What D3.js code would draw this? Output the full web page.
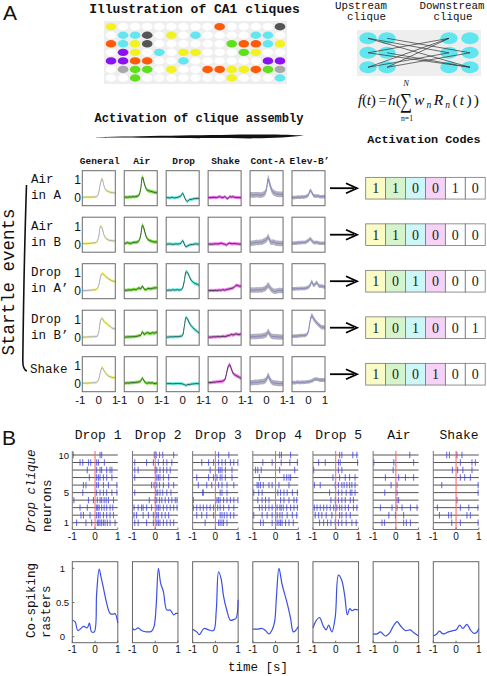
<!DOCTYPE html>
<html><head><meta charset="utf-8">
<script src="https://cdn.jsdelivr.net/npm/d3@7"></script>
<style>body{margin:0;background:#fff}svg{display:block}</style>
</head><body>
<svg id="c" width="487" height="676"></svg>
<script>
// ---------------- DATA ----------------
const cliqueGrid = [
  "Y........O....K",
  ".CCK.Y.C....CC.",
  "OCYK......GOOCY",
  ".PY.C.YY...GY..",
  "PPOO..C......PP",
  ".LGG.Y..OOYYOGL",
  "..G.......Y...C"
];
const cliqueColors = {Y:"#f2f21e",C:"#62e6ef",K:"#555555",O:"#ff5a0a",G:"#5fe01c",P:"#8a12f2",L:"#a8a8a8"};
// network edges: [upstream col, upstream row, downstream col, downstream row]
const networkEdges = [[0,0,1,2],[0,0,0,1],[1,0,1,1],[0,1,0,0],[1,1,1,2],[0,1,1,2],[0,2,0,0],[1,2,0,0],[1,2,1,1],[0,2,0,1]];

const colNames = ["General","Air","Drop","Shake","Cont-A","Elev-B’"];
const rowNames = [["Air","in A"],["Air","in B"],["Drop","in A’"],["Drop","in B’"],["Shake"]];
const tGrid = [-1,-0.9,-0.8,-0.7,-0.6,-0.5,-0.4,-0.3,-0.2,-0.1,0,0.1,0.2,0.3,0.4,0.5,0.6,0.7,0.8,0.9,1];
const curveGeneral = [
  [0.02,0.02,0.03,0.03,0.02,0.03,0.04,0.03,0.04,0.08,0.3,0.8,1.05,0.7,0.45,0.38,0.33,0.3,0.28,0.27,0.25],
  [0.02,0.03,0.02,0.03,0.04,0.05,0.06,0.06,0.08,0.15,0.45,1.0,0.9,0.55,0.35,0.28,0.22,0.2,0.2,0.18,0.17],
  [0,0,0,0.01,0.02,0.02,0.03,0.04,0.05,0.1,0.3,0.75,0.95,0.9,0.8,0.72,0.65,0.6,0.55,0.52,0.5],
  [0,0,0,0.01,0.02,0.01,0.02,0.03,0.03,0.05,0.3,0.9,1.05,0.9,0.8,0.75,0.65,0.6,0.5,0.48,0.45],
  [0.02,0.02,0.03,0.02,0.04,0.03,0.05,0.05,0.06,0.1,0.25,0.65,0.9,0.75,0.6,0.5,0.42,0.38,0.35,0.33,0.32]
];
const curveAir = [
  [0.02,0.03,0.02,0.04,0.03,0.05,0.04,0.06,0.08,0.15,0.5,1.15,0.85,0.55,0.42,0.38,0.35,0.33,0.3,0.28,0.28],
  [0.02,0.05,0.08,0.05,0.04,0.08,0.1,0.1,0.12,0.2,0.5,1.05,0.85,0.5,0.3,0.22,0.18,0.15,0.12,0.12,0.12],
  [0.02,0.02,0.03,0.04,0.03,0.05,0.08,0.05,0.1,0.15,0.1,0.25,0.1,0.05,0.1,0.12,0.1,0.12,0.15,0.15,0.18],
  [0,0,0.01,0.02,0.01,0.03,0.02,0.04,0.05,0.08,0.1,0.3,0.15,0.2,0.25,0.22,0.2,0.25,0.22,0.25,0.28],
  [0.02,0.03,0.04,0.03,0.05,0.05,0.06,0.07,0.08,0.1,0.15,0.3,0.15,0.05,0.02,0.05,0.03,0.05,0,0.02,0.02]
];
const curveDrop = [
  [0,0,-0.02,0,0.01,-0.02,0,0.02,0.05,0.1,0.25,0.05,-0.15,-0.2,-0.12,-0.1,-0.08,-0.06,-0.05,-0.04,-0.05],
  [0,0,0.01,0,-0.01,0,0.01,0,0.02,0.05,0.2,0,-0.15,-0.1,-0.05,-0.03,-0.02,0,0.01,0,0],
  [0.02,0.02,0.03,0.02,0.05,0.03,0.04,0.05,0.03,0.05,0.15,0.55,1.05,1.0,0.8,0.6,0.5,0.42,0.38,0.35,0.3],
  [0,0,0.01,0.02,0.01,0.02,0.03,0.02,0.04,0.05,0.1,0.6,1.1,1.0,0.8,0.65,0.55,0.45,0.38,0.3,0.22],
  [0,0,0,0,-0.01,0,0,0.01,0,0,-0.02,-0.05,-0.1,-0.05,-0.05,-0.03,-0.02,-0.01,0,0,0]
];
const curveShake = [
  [0,0,0,0.01,0.02,0,0.03,0.05,0.02,0,0.05,-0.02,-0.05,0.05,0.03,0.05,0.02,0.01,0,0,0],
  [0,0,0,0,0.01,0.02,0.01,0.03,0.05,0.02,0,-0.05,0.02,0.05,0.03,0.02,0.03,0.02,0.01,0,0],
  [0,0,0.01,0,0.02,0.01,0.02,0.03,0.02,0.05,0.03,0.05,0.08,0.1,0.12,0.15,0.2,0.3,0.28,0.25,0.25],
  [0,0,0,0.02,0.01,0.02,0.03,0.02,0.03,0.05,0.03,0.05,0.08,0.1,0.15,0.12,0.15,0.18,0.15,0.15,0.18],
  [0.05,0.06,0.06,0.08,0.08,0.1,0.1,0.12,0.12,0.15,0.2,0.5,0.9,1.05,0.85,0.6,0.5,0.45,0.4,0.35,0.3]
];
const curveContA = [
  [0.15,0.15,0.14,0.15,0.16,0.15,0.14,0.15,0.18,0.25,0.5,1.05,0.75,0.45,0.3,0.25,0.2,0.2,0.18,0.18,0.17],
  [0.05,0.05,0.06,0.08,0.1,0.08,0.12,0.1,0.15,0.2,0.25,0.4,0.2,0.1,0.12,0.08,0.05,0.05,0.03,0.03,0.02],
  [0.02,0.03,0.02,0.03,0.05,0.03,0.05,0.04,0.08,0.1,0.2,0.3,0.18,0.05,0,-0.05,-0.02,0,0.02,0,0],
  [0.02,0.02,0.03,0.03,0.04,0.05,0.05,0.06,0.08,0.1,0.15,0.3,0.15,0.05,0.03,0.02,0.02,0.01,0.01,0,0],
  [0.05,0.05,0.06,0.08,0.07,0.08,0.1,0.1,0.12,0.15,0.25,0.45,0.25,0.1,0.05,0.03,0.02,0.01,0,0,0]
];
const curveElevB = [
  [0.02,0,0.01,0.02,0.03,0.02,0.04,0.03,0.05,0.08,0.15,0.4,0.3,0.12,0.08,0.1,0.08,0.05,0.05,0.06,0.05],
  [0.05,0.05,0.06,0.06,0.08,0.07,0.1,0.09,0.1,0.15,0.2,0.3,0.2,0.1,0.08,0.1,0.07,0.05,0.05,0.05,0.05],
  [0.1,0.1,0.1,0.11,0.1,0.12,0.11,0.12,0.13,0.15,0.2,0.3,0.5,0.3,0.35,0.45,0.3,0.25,0.25,0.22,0.2],
  [0.05,0.05,0.06,0.06,0.07,0.08,0.08,0.09,0.1,0.15,0.35,0.9,1.2,1.05,0.9,0.8,0.7,0.62,0.55,0.55,0.52],
  [0.05,0.06,0.05,0.08,0.07,0.06,0.08,0.07,0.08,0.1,0.1,0.12,0.15,0.2,0.25,0.25,0.22,0.2,0.2,0.2,0.18]
];
const bandHalfWidth = [0.07,0.09,0.09,0.09,0.15,0.1];
const activationCodes = [[1,1,0,0,1,0],[1,1,0,0,0,0],[1,0,1,0,0,0],[1,0,1,0,0,1],[1,0,0,1,0,0]];
const smallXTicks = [-1,0,1];
const smallYTicks = [0,1];

const rasterTitles = ["Drop 1","Drop 2","Drop 3","Drop 4","Drop 5","Air","Shake"];
// spike times (s), rows listed from neuron 10 (top) down to neuron 1 (bottom)
const spikesDrop1 = [
  [-0.96,0.22,0.29],
  [-0.66,-0.54,-0.29,-0.19,0.07,0.15,0.41],
  [-0.34,0.07,0.22,0.29,0.51,0.66,0.74],
  [-0.25,0.07,0.15,0.22,0.37,0.51,0.74],
  [-0.51,-0.4,0.07,0.15,0.37,0.59,0.96],
  [-0.54,0.07,0.22,0.37,0.51,0.74,0.96],
  [-0.93,-0.29,-0.07,0.1,0.22,0.29,0.4,0.49,0.59,0.81],
  [-0.66,-0.34,0.07,0.12,0.18,0.29,0.4,0.51,0.66,0.78],
  [-0.62,-0.51,-0.22,0.07,0.15,0.22,0.37,0.51,0.66,0.81],
  [-0.81,-0.4,-0.15,0.1,0.16,0.22,0.29,0.37,0.44,0.54,0.66,0.88]
];
const spikesDrop2 = [
  [-0.04,0.04,0.19,0.33,0.81],
  [-0.9,-0.38,-0.08,0.14,0.36,0.51,0.73],
  [-0.9,-0.75,0,0.07,0.21,0.36,0.51,0.66],
  [-0.9,0.07,0.14,0.21,0.36,0.59],
  [-0.16,-0.05,0.07,0.19,0.36,0.59,0.81],
  [-0.9,0.04,0.11,0.21,0.33,0.51,0.69],
  [-0.26,0,0.07,0.19,0.29,0.44,0.59,0.73,0.88,0.96],
  [-0.93,-0.75,-0.6,-0.53,-0.38,-0.16,0.07,0.14,0.21,0.36,0.51,0.66,0.81,0.96],
  [-0.93,-0.82,-0.53,-0.3,-0.08,0.07,0.14,0.29,0.44,0.59],
  [-0.9,-0.75,-0.38,-0.08,0.07,0.14,0.21,0.36,0.51,0.66,0.81]
];
const spikesDrop3 = [
  [0.14,0.59],
  [-0.6,-0.3,-0.08,0.14,0.29,0.44,0.66,0.81,0.99],
  [-0.23,0.14,0.21,0.29,0.44,0.73],
  [-0.82,-0.3,-0.08,0.07,0.21,0.29,0.44,0.73],
  [-0.75,-0.38,-0.16,0.14,0.29,0.51,0.81],
  [-0.56,-0.53,0.21,0.29,0.51],
  [-0.97,0.07,0.14,0.21,0.36,0.51,0.66,0.81,0.99],
  [-0.97,-0.82,-0.67,-0.53,-0.38,-0.23,-0.08,0.1,0.21,0.36,0.59,0.81],
  [-0.82,-0.6,-0.38,-0.08,0.21,0.29,0.39,0.51,0.66,0.81],
  [-0.45,0.14,0.21,0.29,0.36,0.51]
];
const spikesDrop4 = [
  [0.18,0.26,0.66],
  [-0.56,-0.15,0.25,0.63,0.96],
  [-0.88,-0.78,-0.63,0.18,0.84],
  [-0.71,0.37,0.49,0.59,0.66],
  [-0.81,-0.74,-0.66,-0.54,-0.29,-0.15,0.15,0.59],
  [-0.96,-0.74,-0.59,0.1,0.22,0.37,0.51,0.74,0.96],
  [-0.78,-0.59,-0.44,-0.29,0.22,0.37,0.59,0.81,0.93],
  [-0.71,-0.59,-0.44,-0.29,-0.15,0.07,0.19,0.25,0.34,0.49,0.66,0.81,0.96],
  [-0.96,-0.59,-0.37,-0.15,0.07,0.19,0.29,0.51,0.74,0.93],
  [-0.66,-0.54,-0.15,0.07,0.15,0.22,0.29,0.44,0.59,0.78]
];
const spikesDrop5 = [
  [0.17,0.27,0.75,0.93],
  [-0.75,-0.46,0.12,0.2,0.96],
  [-0.97,0.12,0.27],
  [-0.12,0.17,0.42,0.61,0.85],
  [-0.94,-0.68,-0.02,0.12,0.27,0.37,0.49,0.61,0.71,0.85],
  [-0.27,0.12,0.27,0.46,0.64,0.71,0.85],
  [-0.21,-0.02,0.12,0.27,0.42,0.64,0.78],
  [-0.94,-0.82,-0.68,-0.53,-0.39,-0.24,-0.09,0.05,0.17,0.27,0.42,0.56,0.78,0.93],
  [-0.9,-0.75,-0.61,-0.42,-0.17,0.17,0.27,0.46,0.64],
  [-0.71,-0.53,-0.36,-0.21,-0.02,0.12,0.27,0.46,0.71,0.9]
];
const spikesAir = [
  [0.61],
  [-0.97,-0.09,0.78],
  [-0.12],
  [-0.46,0.12,0.42,0.78],
  [-0.21,0.05],
  [-0.49,0.05],
  [0.05,0.12],
  [-0.68,-0.17,0.05,0.27,0.64,0.93],
  [-0.31,-0.02,0.34],
  [-0.61,-0.5,0.34,0.46,0.64]
];
const spikesShake = [
  [-0.41,-0.29,0.04,0.26],
  [0.19,0.7,0.85],
  [-0.16,0.07,0.3,0.7],
  [0.19,0.38,0.63],
  [-0.63,0.97],
  [0.97],
  [0.04],
  [-0.82,0.19,0.56,0.96],
  [-0.73,-0.33,-0.21,0.48,0.63],
  [-0.19,0.19,0.97]
];
const rasterYTicks = [1,5,10];

// co-spiking rasters: [time (s), normalised value]
const cospikeDrop1 = [[-1,0.24],[-0.88,0.22],[-0.75,0.09],[-0.51,0.15],[-0.34,0.13],[-0.25,0.2],[-0.15,0.07],[-0.03,0.07],[0.07,0.63],[0.18,0.99],[0.26,0.88],[0.37,0.71],[0.51,0.49],[0.66,0.34],[0.81,0.33],[0.88,0.34],[1,0.2]];
const cospikeDrop2 = [[-1,0.12],[-0.9,0.1],[-0.75,0.13],[-0.6,0.09],[-0.38,0.07],[-0.16,0.08],[-0.05,0.15],[0.04,0.44],[0.14,1.0],[0.24,0.78],[0.36,0.66],[0.51,0.39],[0.66,0.39],[0.81,0.32],[0.91,0.34],[1,0.34]];
const cospikeDrop3 = [[-1,0.11],[-0.82,0.07],[-0.7,0.03],[-0.5,0.12],[-0.3,0.1],[-0.08,0.09],[0.04,0.39],[0.14,0.95],[0.25,0.85],[0.36,0.59],[0.5,0.39],[0.66,0.24],[0.8,0.25],[0.91,0.27],[1,0.54]];
const cospikeDrop4 = [[-1,0.11],[-0.81,0.11],[-0.59,0.12],[-0.44,0.09],[-0.29,0.04],[-0.15,0.1],[-0.04,0.22],[0.04,0.59],[0.15,1.0],[0.29,0.76],[0.51,0.49],[0.66,0.27],[0.78,0.07],[0.88,0.09],[1,0.15]];
const cospikeDrop5 = [[-1,0.13],[-0.85,0.24],[-0.71,0.28],[-0.54,0.15],[-0.42,0.1],[-0.31,0.17],[-0.17,0.07],[-0.02,0.29],[0.12,0.9],[0.26,0.83],[0.4,0.59],[0.51,0.32],[0.62,0.41],[0.72,0.38],[0.84,0.4],[1,0.39]];
const cospikeAir = [[-1,0.04],[-0.83,0.04],[-0.68,0.07],[-0.46,0.01],[-0.27,0.06],[-0.12,0.15],[0.05,0.22],[0.2,0.16],[0.41,0.09],[0.63,0.1],[0.78,0.06],[1,0.01]];
const cospikeShake = [[-1,0.01],[-0.85,0.04],[-0.73,0.08],[-0.56,0.04],[-0.33,0.07],[-0.11,0.09],[0.01,0.1],[0.16,0.17],[0.3,0.12],[0.48,0.18],[0.63,0.1],[0.78,0.05],[0.9,0.06],[1,0.12]];
const cospikeYTicks = [[0,"0"],[0.5,"0.5"],[1,"1"]];

// ---------------- DRAWING ----------------
const svg = d3.select("#c");
const mono = '"Courier New","Liberation Mono",monospace';
const sans = 'Arial,"Liberation Sans",sans-serif';
const serif = '"Times New Roman","Liberation Serif",serif';
const T = (x,y,s,o={}) => {
  const t = svg.append("text").attr("x",x).attr("y",y).text(s)
    .attr("font-family",o.f||mono).attr("font-size",o.s||12).attr("fill",o.c||"#111")
    .attr("text-anchor",o.a||"start");
  if(o.w) t.attr("font-weight",o.w);
  if(o.i) t.attr("font-style","italic");
  if(o.r) t.attr("transform",`rotate(-90,${x},${y})`);
  if(o.len) t.attr("textLength",o.len).attr("lengthAdjust",o.adj||"spacingAndGlyphs");
  return t;
};

// panel letters
T(3,20,"A",{f:sans,s:21});
T(2,445,"B",{f:sans,s:21});

// ---- clique illustration
T(194.5,12.5,"Illustration of CA1 cliques",{s:13,w:"bold",a:"middle"});
svg.append("rect").attr("x",104).attr("y",21).attr("width",183).attr("height",63).attr("fill","#eeeeee");
const gx = d3.scalePoint().domain(d3.range(15)).range([111,280]);
const gy = d3.scalePoint().domain(d3.range(7)).range([26.7,78]);
cliqueGrid.forEach((row,r)=>row.split("").forEach((ch,c)=>{
  svg.append("ellipse").attr("cx",gx(c)).attr("cy",gy(r)).attr("rx",5.3).attr("ry",3.7)
    .attr("fill",cliqueColors[ch]||"#ffffff");
}));

// ---- network
T(361,8.5,"Upstream",{s:10.8,a:"middle"});
T(366.5,19.5,"clique",{s:10.8,a:"middle"});
T(452,8.5,"Downstream",{s:10.8,a:"middle"});
T(453,19.5,"clique",{s:10.8,a:"middle"});
svg.append("rect").attr("x",357).attr("y",30).attr("width",124).attr("height",46).attr("fill","#eeeeee");
const nUpX = d3.scalePoint().domain([0,1]).range([368,387]);
const nDnX = d3.scalePoint().domain([0,1]).range([449,470]);
const nY = d3.scalePoint().domain([0,1,2]).range([38.3,67.3]);
[nUpX,nDnX].forEach(sx=>[0,1].forEach(c=>[0,1,2].forEach(r=>{
  svg.append("ellipse").attr("cx",sx(c)).attr("cy",nY(r)).attr("rx",8.7).attr("ry",6).attr("fill","#5fe6ee");
})));
networkEdges.forEach(e=>{
  svg.append("line").attr("x1",nUpX(e[0])).attr("y1",nY(e[1])).attr("x2",nDnX(e[2])).attr("y2",nY(e[3]))
    .attr("stroke","#333").attr("stroke-width",0.7);
});
// formula  f(t) = h( sum_{n=1}^{N} w_n R_n(t) )
const f1 = T(358,104.5,"",{f:serif,s:15.5,len:18,adj:"spacing"});
f1.append("tspan").attr("font-style","italic").text("f");
f1.append("tspan").text("(");
f1.append("tspan").attr("font-style","italic").text("t");
f1.append("tspan").text(")");
T(378.5,104.5,"=",{f:serif,s:15.5,len:8});
const f2 = T(388,104.5,"",{f:serif,s:15.5});
f2.append("tspan").attr("font-style","italic").text("h");
f2.append("tspan").text("(");
T(400,108,"∑",{f:serif,s:21,len:12});
T(406,85.5,"N",{f:serif,s:8.5,i:1,a:"middle"});
T(407,120.5,"n=1",{f:serif,s:8,a:"middle",len:12});
const f3 = T(414,104.5,"",{f:serif,s:15.5,len:65,adj:"spacing"});
f3.append("tspan").attr("font-style","italic").text("w");
f3.append("tspan").attr("font-style","italic").attr("font-size",9.5).attr("dy",3.5).text("n");
f3.append("tspan").attr("font-style","italic").attr("dy",-3.5).text("R");
f3.append("tspan").attr("font-style","italic").attr("font-size",9.5).attr("dy",3.5).text("n");
f3.append("tspan").attr("dy",-3.5).text("(");
f3.append("tspan").attr("font-style","italic").text("t");
f3.append("tspan").text("))");

// ---- Activation titles
T(199,121.5,"Activation of clique assembly",{s:12,w:"bold",a:"middle"});
svg.append("path").attr("d","M96,137.3 C140,136.2 200,135.2 250,134.6 C275,134.3 292,134.8 304,135.6 C292,137.3 270,138.3 250,138.4 C200,138.4 140,138.0 96,137.6 Z").attr("fill","#111");
T(424,143,"Activation Codes",{s:11.8,w:"bold",a:"middle"});

// ---- grid of small plots
const colX = d3.scalePoint().domain(colNames).range([82.3,292]);
const rowY = d3.scalePoint().domain(d3.range(5)).range([170.7,356.7]);
const bw = 33, bh = 35;
const curveSets = [curveGeneral,curveAir,curveDrop,curveShake,curveContA,curveElevB];
const bandColors = ["#f4f45a","#78de3a","#68eadd","#f06ef0","#a9a9b6","#a9a9b6"];
const lineColors = ["#a6a6d6","#2f5f30","#2a5656","#4e2c50","#8585c6","#8585c6"];
colNames.forEach((cn,c)=>T(colX(cn)+bw/2+1,164,cn,{s:9.5,w:"bold",a:"middle"}));
rowNames.forEach((rn,r)=>{
  if(rn.length===2){ T(31,rowY(r)+12.5,rn[0],{s:12.5}); T(31,rowY(r)+28.5,rn[1],{s:12.5}); }
  else T(30,rowY(r)+16.5,rn[0],{s:12.5});
});
const defs = svg.append("defs");
colNames.forEach((cn,c)=>{
  for(let r=0;r<5;r++){
    const x0 = colX(cn), y0 = rowY(r);
    const sx = d3.scaleLinear().domain([-1,1]).range([x0,x0+bw]);
    const sy = d3.scaleLinear().domain([-0.45,1.5]).range([y0+bh,y0]);
    const id = `cl${c}_${r}`;
    defs.append("clipPath").attr("id",id).append("rect").attr("x",x0).attr("y",y0).attr("width",bw).attr("height",bh);
    const g = svg.append("g").attr("clip-path",`url(#${id})`);
    const vals = curveSets[c][r];
    const pts = tGrid.map((t,i)=>({t,v:vals[i],w:bandHalfWidth[c]*(1+0.35*Math.abs(vals[i]))}));
    g.append("path").datum(pts).attr("fill",bandColors[c]).attr("opacity",0.9)
      .attr("d",d3.area().x(d=>sx(d.t)).y0(d=>sy(d.v-d.w)).y1(d=>sy(d.v+d.w)).curve(d3.curveMonotoneX));
    g.append("path").datum(pts).attr("fill","none").attr("stroke",lineColors[c]).attr("stroke-width",1)
      .attr("d",d3.line().x(d=>sx(d.t)).y(d=>sy(d.v)).curve(d3.curveMonotoneX));
    svg.append("rect").attr("x",x0).attr("y",y0).attr("width",bw).attr("height",bh)
      .attr("fill","none").attr("stroke","#6a6a6a").attr("stroke-width",1);
    if(c===0) smallYTicks.forEach(v=>T(81,sy(v)+4.5,String(v),{f:sans,s:12,a:"end"}));
    if(r===4) smallXTicks.forEach(v=>T(sx(v)+(v===-1?-2:0),404,String(v),{f:sans,s:11.5,a:"middle"}));
  }
});
// startle events label and brace
T(13.5,282,"Startle events",{s:17.5,a:"middle",r:1});
svg.append("path").attr("d","M26.5,185 C25,230 23.5,300 22.8,360 C22.7,366 23.5,370 27,371")
  .attr("fill","none").attr("stroke","#111").attr("stroke-width",1.6);

// arrows + activation codes
const cellX = d3.scalePoint().domain(d3.range(6)).range([365.7,465.3]);
const cellW = 19.9, cellH = 21.7;
const cellColors = ["#fbfbc6","#d6f4cb","#cdf6f6","#f6d2f6","#ffffff","#ffffff"];
activationCodes.forEach((code,r)=>{
  const yc = rowY(r)+17.5;
  svg.append("line").attr("x1",330).attr("x2",354).attr("y1",yc).attr("y2",yc).attr("stroke","#000").attr("stroke-width",1.8);
  svg.append("path").attr("d",`M346,${yc-5} L357,${yc} L346,${yc+5}`).attr("fill","none").attr("stroke","#000").attr("stroke-width",1.8);
  code.forEach((v,i)=>{
    svg.append("rect").attr("x",cellX(i)).attr("y",yc-cellH/2).attr("width",cellW).attr("height",cellH)
      .attr("fill",cellColors[i]).attr("stroke","#777").attr("stroke-width",0.8);
    T(cellX(i)+cellW/2,yc+4.8,String(v),{f:serif,s:14,a:"middle",c:"#222"});
  });
});

// ---------------- PANEL B ----------------
const panX = d3.scalePoint().domain(rasterTitles).range([72.3,433.3]);
const pw = 45.5;
const spikeSets = [spikesDrop1,spikesDrop2,spikesDrop3,spikesDrop4,spikesDrop5,spikesAir,spikesShake];
const cospikeSets = [cospikeDrop1,cospikeDrop2,cospikeDrop3,cospikeDrop4,cospikeDrop5,cospikeAir,cospikeShake];
const ny = d3.scaleLinear().domain([1,10]).range([522.7,455]);
const rasterBottom = 529.5;
const cyTop = 561.7, cyBot = 642.7;
const cy = d3.scaleLinear().domain([-0.088,1.097]).range([cyBot,cyTop]);
rasterTitles.forEach((name,p)=>{
  const x0 = panX(name);
  const sx = d3.scaleLinear().domain([-1,1]).range([x0,x0+pw]);
  T(sx(0)+3,438.5,name,{s:13,a:"middle"});
  spikeSets[p].forEach((times,k)=>{
    const n = 10-k, y = ny(n);
    svg.append("line").attr("x1",x0).attr("x2",x0+pw).attr("y1",y).attr("y2",y).attr("stroke","#555").attr("stroke-width",1);
    times.forEach(t=>{
      svg.append("line").attr("x1",sx(t)).attr("x2",sx(t)).attr("y1",y-3.2).attr("y2",y+3.2)
        .attr("stroke","#3d3de8").attr("stroke-opacity",0.72).attr("stroke-width",1.1);
    });
  });
  svg.append("line").attr("x1",sx(0)).attr("x2",sx(0)).attr("y1",451).attr("y2",rasterBottom).attr("stroke","#ff5d5d").attr("stroke-width",1);
  svg.append("line").attr("x1",x0).attr("x2",x0).attr("y1",451).attr("y2",rasterBottom).attr("stroke","#777").attr("stroke-width",1);
  svg.append("line").attr("x1",x0).attr("x2",x0+pw).attr("y1",rasterBottom).attr("y2",rasterBottom).attr("stroke","#777").attr("stroke-width",1);
  smallXTicks.forEach(v=>{
    svg.append("line").attr("x1",sx(v)).attr("x2",sx(v)).attr("y1",rasterBottom).attr("y2",rasterBottom-2).attr("stroke","#777");
    T(sx(v),539.5,String(v),{f:sans,s:10,a:"middle"});
  });
  if(p===0) rasterYTicks.forEach(v=>{
    T(69,ny(v)+3.5,String(v),{f:sans,s:9.5,a:"end"});
    svg.append("line").attr("x1",x0).attr("x2",x0+2).attr("y1",ny(v)).attr("y2",ny(v)).attr("stroke","#777");
  });
  svg.append("rect").attr("x",x0).attr("y",cyTop).attr("width",pw).attr("height",cyBot-cyTop)
    .attr("fill","none").attr("stroke","#666").attr("stroke-width",1);
  svg.append("path").datum(cospikeSets[p]).attr("fill","none").attr("stroke","#3b4fe6").attr("stroke-width",1.2)
    .attr("d",d3.line().x(d=>sx(d[0])).y(d=>cy(d[1])).curve(d3.curveCatmullRom.alpha(0.5)));
  smallXTicks.forEach(v=>{
    svg.append("line").attr("x1",sx(v)).attr("x2",sx(v)).attr("y1",cyBot).attr("y2",cyBot-2).attr("stroke","#666");
    T(sx(v),652.5,String(v),{f:sans,s:10,a:"middle"});
  });
  if(p===0) cospikeYTicks.forEach(d=>{
    T(62.5,cy(d[0])+3.5,d[1],{f:sans,s:9.5,a:"middle"});
    svg.append("line").attr("x1",x0).attr("x2",x0+2).attr("y1",cy(d[0])).attr("y2",cy(d[0])).attr("stroke","#666");
  });
});
T(35,532,"Drop clique",{s:12.5,i:1,r:1});
T(51,532,"neurons",{s:12.5,r:1});
T(35,638,"Co-spiking",{s:12.5,r:1});
T(50,638,"rasters",{s:12.5,r:1});
T(258,671,"time [s]",{s:12.5,a:"middle"});
</script>
</body></html>
